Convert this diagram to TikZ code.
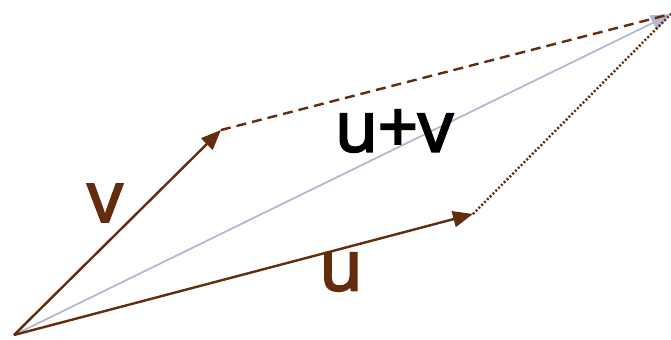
\documentclass[tikz,border=0pt]{standalone}
\usepackage{fontspec}
\setmainfont{Open Sans}
\newfontfamily\lblfont[FakeBold=3]{Open Sans}
\usetikzlibrary{arrows.meta}

\definecolor{vecbrown}{RGB}{99,44,12}
\definecolor{sumblue}{RGB}{176,186,210}

\begin{document}
\begin{tikzpicture}[x=0.5pt, y=-0.5pt]
\tikzstyle{vec} = [line width=1.2pt, vecbrown, -{Triangle[length=10pt, width=8pt]}]
\tikzstyle{sumvec} = [line width=0.9pt, sumblue, -{Triangle[length=10pt, width=8pt]}]
\tikzstyle{lbl} = [inner sep=0pt, font=\lblfont\fontsize{35}{40}\selectfont]

\useasboundingbox (0,0) rectangle (671,339);

\coordinate (O) at (14,335);
\coordinate (V) at (221,130);
\coordinate (U) at (473,214);
\coordinate (S) at (671,14);

\draw [sumvec] (O) -- (S);
\draw [vec] (O) -- (V);
\draw [vec] (O) -- (U);
\draw [line width=1.2pt, vecbrown, dash pattern=on 5pt off 3pt] (V) -- (S);
\draw [line width=1.2pt, vecbrown, dash pattern=on 1pt off 1pt] (U) -- (S);

\node [lbl, vecbrown] (vlabel) at (105,203) {v};
\node [lbl, vecbrown] (ulabel) at (341,272) {u};
\node [lbl, black] (sumlabel) at (394,131) {u+v};

\end{tikzpicture}
\end{document}
